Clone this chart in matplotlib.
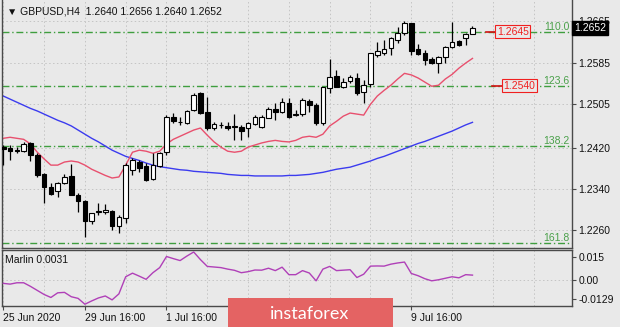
import matplotlib
matplotlib.use('Agg')
import matplotlib.pyplot as plt
from matplotlib.patches import Rectangle

plt.rcParams['font.family'] = ['Liberation Sans', 'DejaVu Sans']
plt.rcParams['font.size'] = 7.5

# ---------------- data ----------------
opens = [1.2422, 1.2419, 1.2415, 1.2413, 1.2429, 1.2405, 1.2368, 1.2343, 1.2335, 1.2351,
         1.2365, 1.2328, 1.2316, 1.2277, 1.2295, 1.2296, 1.2297, 1.2268, 1.2283, 1.2376,
         1.2392, 1.2384, 1.2359, 1.2384, 1.2411, 1.2479, 1.2470, 1.2467, 1.2493, 1.2526,
         1.2489, 1.2458, 1.2463, 1.2462, 1.2461, 1.2460, 1.2458, 1.2465, 1.2460, 1.2477,
         1.2495, 1.2489, 1.2506, 1.2484, 1.2485, 1.2510, 1.2502, 1.2467, 1.2535, 1.2559,
         1.2537, 1.2549, 1.2555, 1.2528, 1.2543, 1.2599, 1.2603, 1.2613, 1.2628, 1.2642,
         1.2662, 1.2611, 1.2603, 1.2592, 1.2584, 1.2595, 1.2615, 1.2627, 1.2632, 1.2640]
highs = [1.2425, 1.2425, 1.2421, 1.2431, 1.2431, 1.2409, 1.2370, 1.2351, 1.2353, 1.2368,
         1.2388, 1.2332, 1.2318, 1.2293, 1.2312, 1.2310, 1.2299, 1.2289, 1.2390, 1.2399,
         1.2396, 1.2390, 1.2409, 1.2411, 1.2483, 1.2487, 1.2479, 1.2493, 1.2526, 1.2528,
         1.2518, 1.2469, 1.2469, 1.2469, 1.2485, 1.2463, 1.2469, 1.2483, 1.2483, 1.2498,
         1.2506, 1.2516, 1.2516, 1.2493, 1.2516, 1.2514, 1.2506, 1.2537, 1.2592, 1.2570,
         1.2555, 1.2561, 1.2565, 1.2551, 1.2603, 1.2625, 1.2628, 1.2634, 1.2654, 1.2665,
         1.2662, 1.2621, 1.2609, 1.2595, 1.2597, 1.2617, 1.2663, 1.2628, 1.2642, 1.2656]
lows = [1.2386, 1.2396, 1.2409, 1.2411, 1.2394, 1.2363, 1.2312, 1.2328, 1.2324, 1.2349,
        1.2328, 1.2295, 1.2246, 1.2272, 1.2289, 1.2291, 1.2260, 1.2254, 1.2274, 1.2366,
        1.2372, 1.2355, 1.2357, 1.2382, 1.2405, 1.2467, 1.2463, 1.2465, 1.2491, 1.2485,
        1.2454, 1.2454, 1.2458, 1.2454, 1.2434, 1.2434, 1.2440, 1.2463, 1.2458, 1.2477,
        1.2473, 1.2487, 1.2477, 1.2481, 1.2481, 1.2489, 1.2463, 1.2463, 1.2526, 1.2537,
        1.2535, 1.2545, 1.2522, 1.2506, 1.2537, 1.2595, 1.2599, 1.2599, 1.2623, 1.2638,
        1.2599, 1.2599, 1.2580, 1.2582, 1.2565, 1.2584, 1.2613, 1.2617, 1.2619, 1.2640]
closes = [1.2417, 1.2413, 1.2414, 1.2427, 1.2405, 1.2366, 1.2343, 1.2330, 1.2351, 1.2363,
          1.2328, 1.2316, 1.2277, 1.2293, 1.2297, 1.2298, 1.2268, 1.2285, 1.2386, 1.2396,
          1.2380, 1.2357, 1.2386, 1.2409, 1.2479, 1.2471, 1.2469, 1.2491, 1.2522, 1.2487,
          1.2458, 1.2465, 1.2464, 1.2458, 1.2460, 1.2452, 1.2467, 1.2479, 1.2479, 1.2495,
          1.2489, 1.2508, 1.2479, 1.2485, 1.2512, 1.2502, 1.2467, 1.2537, 1.2557, 1.2537,
          1.2547, 1.2557, 1.2526, 1.2541, 1.2603, 1.2607, 1.2611, 1.2632, 1.2642, 1.2662,
          1.2607, 1.2601, 1.2590, 1.2584, 1.2595, 1.2615, 1.2625, 1.2619, 1.2640, 1.2652]
ma_fast = [1.2438, 1.2440, 1.2438, 1.2436, 1.2427, 1.2411, 1.2398, 1.2386, 1.2386, 1.2392,
           1.2394, 1.2392, 1.2386, 1.2378, 1.2372, 1.2366, 1.2361, 1.2363, 1.2386, 1.2411,
           1.2415, 1.2413, 1.2409, 1.2413, 1.2427, 1.2436, 1.2442, 1.2448, 1.2454, 1.2458,
           1.2444, 1.2431, 1.2421, 1.2413, 1.2411, 1.2413, 1.2421, 1.2425, 1.2429, 1.2432,
           1.2434, 1.2432, 1.2431, 1.2434, 1.2440, 1.2442, 1.2440, 1.2446, 1.2462, 1.2471,
           1.2481, 1.2487, 1.2485, 1.2483, 1.2504, 1.2520, 1.2531, 1.2541, 1.2553, 1.2564,
           1.2561, 1.2555, 1.2547, 1.2539, 1.2541, 1.2553, 1.2562, 1.2574, 1.2584, 1.2593]
ma_slow = [1.2520, 1.2514, 1.2508, 1.2502, 1.2496, 1.2491, 1.2485, 1.2479, 1.2473, 1.2468,
           1.2462, 1.2454, 1.2446, 1.2438, 1.2431, 1.2423, 1.2415, 1.2409, 1.2403, 1.2399,
           1.2395, 1.2390, 1.2386, 1.2383, 1.2381, 1.2379, 1.2377, 1.2376, 1.2374, 1.2373,
           1.2372, 1.2371, 1.2370, 1.2368, 1.2367, 1.2366, 1.2366, 1.2365, 1.2365, 1.2365,
           1.2365, 1.2365, 1.2366, 1.2366, 1.2367, 1.2368, 1.2370, 1.2372, 1.2375, 1.2378,
           1.2380, 1.2382, 1.2386, 1.2390, 1.2394, 1.2399, 1.2403, 1.2408, 1.2413, 1.2418,
           1.2423, 1.2428, 1.2432, 1.2437, 1.2442, 1.2447, 1.2452, 1.2458, 1.2464, 1.2469]
marlin = [-0.0024, -0.0029, -0.0020, -0.0020, -0.0044, -0.0071, -0.0098, -0.0118, -0.0087, -0.0084,
          -0.0113, -0.0124, -0.0163, -0.0141, -0.0121, -0.0108, -0.0134, -0.0094, 0.0020, 0.0044,
          0.0024, 0.0003, 0.0047, 0.0081, 0.0155, 0.0141, 0.0128, 0.0158, 0.0185, 0.0134,
          0.0089, 0.0085, 0.0081, 0.0071, 0.0063, 0.0047, 0.0054, 0.0065, 0.0064, 0.0077,
          0.0061, 0.0084, 0.0034, 0.0034, 0.0061, 0.0045, -0.0007, 0.0071, 0.0089, 0.0061,
          0.0064, 0.0067, 0.0015, 0.0037, 0.0091, 0.0092, 0.0091, 0.0104, 0.0112, 0.0118,
          0.0042, 0.0027, 0.0007, -0.0007, 0.0000, 0.0010, 0.0020, 0.0013, 0.0034, 0.0031]

fib_levels = [1.2645, 1.2540, 1.2423, 1.2235]
fib_names = ['110.0', '123.6', '138.2', '161.8']
alert_prices = [1.2645, 1.2540]
price_ticks = [1.2665, 1.2585, 1.2505, 1.2420, 1.2340, 1.2260]
marlin_ticks = [0.015, 0.0, -0.0129]
marlin_tick_labels = ['0.015', '0.00', '-0.0129']
# labels at bars 36 and 48 sit under the watermark in the reference (not visible)
date_pos = [0, 12, 24, 36, 48, 60]
date_labels = ['25 Jun 2020', '29 Jun 16:00', '1 Jul 16:00', '', '', '9 Jul 16:00']
symbol_title = 'GBPUSD,H4  1.2640 1.2656 1.2640 1.2652'
last_price = 1.2652
indicator_name = 'Marlin 0.0031'
brand = 'instaforex'

# ---------------- layout ----------------
W, H = 620, 327
BG = '#E9E9E9'
SPINE = '#4A4A4A'
GRID = '#C4C4C4'
FIB = '#3F9E3F'

fig = plt.figure(figsize=(W / 100, H / 100), dpi=100, facecolor=BG)

def frac(x0, y0, x1, y1):
    return [x0 / W, 1 - y1 / H, (x1 - x0) / W, (y1 - y0) / H]

ax = fig.add_axes(frac(2, 0, 571.5, 247.5))
axi = fig.add_axes(frac(2, 249.5, 571.5, 306))
n = len(closes)
xs = list(range(n))
xmin, xmax = -0.19, 83.56

for a in (ax, axi):
    a.set_facecolor(BG)
    a.set_xlim(xmin, xmax)
    for s in a.spines.values():
        s.set_color(SPINE)
        s.set_linewidth(1.0)
    a.yaxis.tick_right()
    a.tick_params(axis='y', direction='out', length=3, width=0.8, color=SPINE,
                  pad=2, labelsize=7.5, labelcolor='#111111')
    for gx in range(0, 84, 6):
        a.axvline(gx, color=GRID, lw=0.7, ls=(0, (1.5, 2.5)), zorder=0)
ax.spines['top'].set_visible(False)

ax.set_ylim(1.22262, 1.27063)
axi.set_ylim(-0.01748, 0.02017)

# price grid / ticks
ax.set_yticks(price_ticks)
ax.set_yticklabels(['%.4f' % p for p in price_ticks])
for p in price_ticks:
    ax.axhline(p, color=GRID, lw=0.7, ls=(0, (1.5, 2.5)), zorder=0)
ax.set_xticks([])

axi.set_yticks(marlin_ticks)
axi.set_yticklabels(marlin_tick_labels)
axi.axhline(0.0, color=GRID, lw=0.7, ls=(0, (1.5, 2.5)), zorder=0)
axi.set_xticks(date_pos)
axi.set_xticklabels(date_labels, ha='left')
axi.tick_params(axis='x', direction='out', length=3, width=0.8, color=SPINE,
                pad=2, labelsize=7.5, labelcolor='#111111')

# fib levels
for lvl, name in zip(fib_levels, fib_names):
    ax.axhline(lvl, color=FIB, lw=1.0, ls=(0, (5, 2, 1, 2)), zorder=1)
    ax.text(83.3, lvl, name, color='#4AA04A', fontsize=7.5, ha='right', va='bottom',
            zorder=6)

# moving averages
ax.plot(xs, ma_slow, color='#3B3BEF', lw=1.0, zorder=2)
ax.plot(xs, ma_fast, color='#E8506E', lw=1.0, zorder=2)

# candles
bw = 0.66
for i in range(n):
    o, h, l, c = opens[i], highs[i], lows[i], closes[i]
    ax.plot([i, i], [l, h], color='black', lw=0.9, zorder=3, solid_capstyle='butt')
    lo, hi = min(o, c), max(o, c)
    if hi - lo < 0.00004:
        ax.plot([i - bw / 2, i + bw / 2], [c, c], color='black', lw=1.0, zorder=4)
        continue
    fc = 'white' if c > o else 'black'
    ax.add_patch(Rectangle((i - bw / 2, lo), bw, hi - lo, facecolor=fc,
                           edgecolor='black', lw=0.8, zorder=4))

# alert price labels
for k, ap in enumerate(alert_prices):
    x0 = 71.0 + k * 0.9
    ax.plot([x0, x0 + 1.5], [ap, ap], color='#D01010', lw=1.2, zorder=6)
    ax.text(x0 + 1.6, ap, '%.4f' % ap, color='#F02020', fontsize=7.5, ha='left', va='center',
            zorder=7, bbox=dict(boxstyle='square,pad=0.15', fc=BG, ec='#F02020', lw=0.8))

# title
ax.text(0.009, 0.955, '\u25bc ' + symbol_title, transform=ax.transAxes, fontsize=7.5,
        color='#111111', ha='left', va='center', zorder=8)

# last price tag
fig.text(574 / W, 1 - 28 / H, '%.4f' % last_price, color='white', fontsize=7.5,
         ha='left', va='center', zorder=20,
         bbox=dict(boxstyle='square,pad=0.2', fc='black', ec='black'))

# indicator
axi.plot(xs, marlin, color='#B040B8', lw=1.0, zorder=3)
axi.text(0.006, 0.82, indicator_name, transform=axi.transAxes, fontsize=7.5,
         color='#111111', ha='left', va='center')

# brand watermark
fig.patches.append(Rectangle((228 / W, 0), 165 / W, 29 / H, transform=fig.transFigure,
                             facecolor='#E46363', edgecolor='none', zorder=30))
fig.text(310 / W, 13 / H, brand, color='white', fontsize=13, family='Lato',
         ha='center', va='center', zorder=31)

fig.savefig('out.png', dpi=100, facecolor=BG)
